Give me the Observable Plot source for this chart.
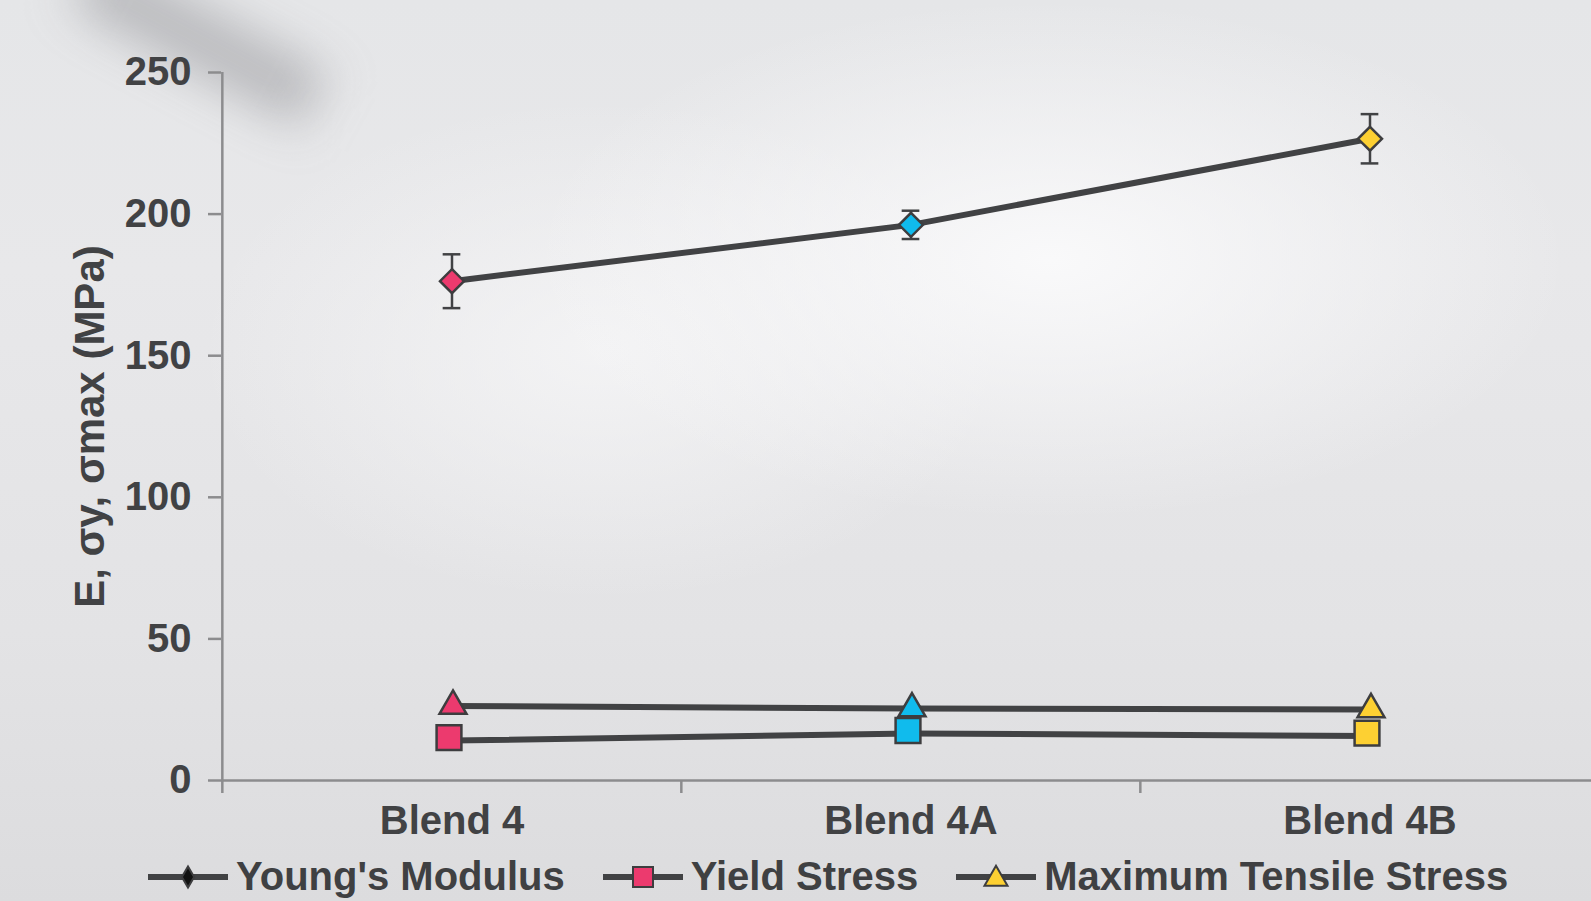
<!DOCTYPE html>
<html>
<head>
<meta charset="utf-8">
<script src="https://cdn.jsdelivr.net/npm/d3@7"></script>
<script src="https://cdn.jsdelivr.net/npm/@observablehq/plot@0.6"></script>
<style>
  html, body { margin: 0; padding: 0; overflow: hidden; width: 1591px; height: 901px; }
  body {
    position: relative;
    font-family: "Liberation Sans", Arial, sans-serif;
    background:
      radial-gradient(ellipse 520px 260px at 1050px 260px, rgba(250,250,251,0.95), rgba(250,250,251,0) 100%),
      radial-gradient(ellipse 400px 250px at 600px 350px, rgba(246,246,247,0.8), rgba(246,246,247,0) 100%),
      linear-gradient(to bottom, #e5e6e8 0%, #e8e8ea 30%, #e3e3e5 70%, #dcdcde 100%);
  }
  #smudge {
    position: absolute; left: 70px; top: 10px; width: 260px; height: 60px;
    background: rgba(110,110,115,0.38); transform: rotate(28deg); filter: blur(24px);
    z-index: 0;
  }
  #chart { position: relative; z-index: 1; }
  #legend {
    position: relative; z-index: 1;
    height: 49px; display: flex; align-items: center; padding-left: 148px;
    font: bold 40px "Liberation Sans", Arial, sans-serif; color: #3f4042; white-space: nowrap;
  }
  .item { display: flex; align-items: center; margin-right: 38px; }
  .item svg { display: block; }
  .item span { margin-left: 8px; }
</style>
</head>
<body>
<div id="smudge"></div>
<div id="chart"></div>
<div id="legend"></div>
<script>
// ---- data ----
const categories = ["Blend 4", "Blend 4A", "Blend 4B"];
const youngsModulus = [176.3, 196.2, 226.6];
const youngsError = [9.5, 5.0, 8.7];
const yieldStress = [14.1, 16.6, 15.7];
const maxTensileStress = [26.3, 25.4, 25.1];
const markerColors = ["#ec3a6e", "#10bbed", "#fdd032"];
const yTicks = [0, 50, 100, 150, 200, 250];
const seriesNames = ["Young's Modulus", "Yield Stress", "Maximum Tensile Stress"];
const yLabel = "E, σy, σmax (MPa)";

const rows = categories.map((c, i) => ({
  category: c,
  E: youngsModulus[i],
  err: youngsError[i],
  ys: yieldStress[i],
  mts: maxTensileStress[i],
  color: markerColors[i]
}));

const W = 1591, H = 852;
const left = 221;
const xRange = [left, left + 1378];
const bw = (xRange[1] - xRange[0]) / categories.length;
const axisGrey = "#8c8c8e";
const ink = "#414244";
const markStroke = "#3d3d3f";
const capHalf = 9;

const chart = Plot.plot({
  width: W,
  height: H,
  marginLeft: left,
  marginRight: 0,
  marginTop: 72,
  marginBottom: 72,
  style: { background: "transparent", fontFamily: "'Liberation Sans', Arial, sans-serif", color: ink, overflow: "visible" },
  x: { type: "band", domain: categories, range: xRange, padding: 0 },
  y: { domain: [0, 250] },
  marks: [
    Plot.ruleY([0], { stroke: axisGrey, strokeWidth: 2.5 }),
    Plot.ruleX([categories[0]], { x: d => d, y1: 0, y2: 250, dx: -bw / 2, stroke: axisGrey, strokeWidth: 2.5 }),
    Plot.axisY({
      ticks: yTicks, tickSize: 13, tickPadding: 17, stroke: axisGrey, strokeWidth: 2.5,
      color: ink, fontSize: 40, fontWeight: "bold",
      label: yLabel, labelAnchor: "center", labelOffset: 147, labelArrow: "none"
    }),
    Plot.axisX({ tickSize: 13, dx: -bw / 2, tickFormat: () => "", stroke: axisGrey, strokeWidth: 2.5, label: null }),
    Plot.axisX({ tickSize: 0, tickPadding: 25, color: ink, fontSize: 40, fontWeight: "bold", label: null }),
    Plot.line(rows, { x: "category", y: "mts", stroke: ink, strokeWidth: 6 }),
    Plot.line(rows, { x: "category", y: "ys", stroke: ink, strokeWidth: 6 }),
    Plot.line(rows, { x: "category", y: "E", stroke: ink, strokeWidth: 6 }),
    Plot.dot(rows, { x: "category", y: "mts", symbol: "triangle", r: 10, fill: "color", stroke: markStroke, strokeWidth: 2.5, dx: 1 }),
    Plot.dot(rows, { x: "category", y: "ys", symbol: "square", r: 14, fill: "color", stroke: markStroke, strokeWidth: 2.5, dx: -3, dy: -3 }),
    Plot.ruleX(rows, { x: "category", y1: d => d.E - d.err, y2: d => d.E + d.err, stroke: ink, strokeWidth: 2.5 }),
    Plot.tickY(rows, { x: "category", y: d => d.E + d.err, stroke: ink, strokeWidth: 2.5, insetLeft: bw / 2 - capHalf, insetRight: bw / 2 - capHalf }),
    Plot.tickY(rows, { x: "category", y: d => d.E - d.err, stroke: ink, strokeWidth: 2.5, insetLeft: bw / 2 - capHalf, insetRight: bw / 2 - capHalf }),
    Plot.dot(rows, { x: "category", y: "E", symbol: "diamond2", r: 10.8, fill: "color", stroke: markStroke, strokeWidth: 2.5 })
  ]
});
document.getElementById("chart").appendChild(chart);

// ---- y label font a touch larger, like the reference ----
// (the axis label is the text element containing the label string)
chart.querySelectorAll("text").forEach(t => {
  if (t.textContent === yLabel) t.setAttribute("font-size", 42);
});

// ---- legend ----
const legendSymbols = [
  { sym: d3.symbolDiamond, size: 130, fill: "#111111" },
  { sym: d3.symbolSquare, size: 400, fill: markerColors[0] },
  { sym: d3.symbolTriangle, size: 230, fill: markerColors[2] }
];
const legend = document.getElementById("legend");
seriesNames.forEach((name, i) => {
  const item = document.createElement("div");
  item.className = "item";
  const s = legendSymbols[i];
  const path = d3.symbol(s.sym, s.size)();
  item.innerHTML =
    `<svg width="80" height="30" viewBox="0 0 80 30">
       <line x1="1" y1="15" x2="79" y2="15" stroke="${ink}" stroke-width="6" stroke-linecap="round"/>
       <path d="${path}" transform="translate(40,${i === 2 ? 17 : 15})" fill="${s.fill}" stroke="${markStroke}" stroke-width="2"/>
     </svg><span>${name}</span>`;
  legend.appendChild(item);
});
</script>
</body>
</html>
